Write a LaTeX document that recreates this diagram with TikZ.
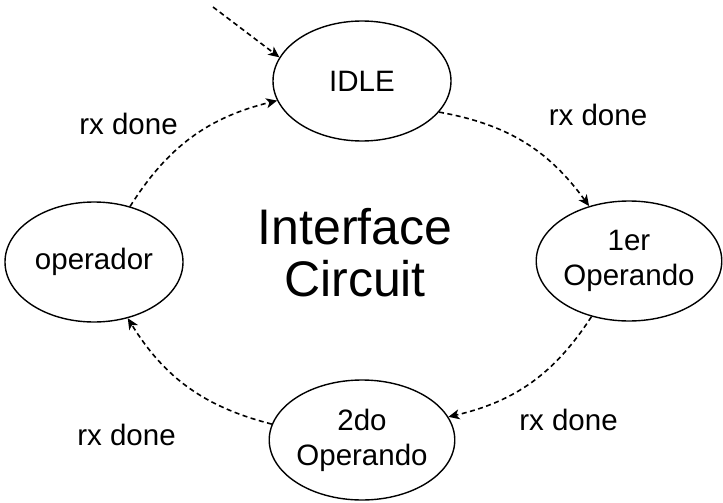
\documentclass[tikz,border=0pt]{standalone}
\usepackage{fontspec}
\setmainfont{Liberation Sans}
\usetikzlibrary{arrows.meta,shapes.geometric}
\begin{document}
\begin{tikzpicture}[x=1pt,y=1pt,
  state/.style={ellipse,draw,line width=1.4pt,minimum width=178pt,minimum height=120pt,inner sep=0pt,align=center,font=\fontsize{29.5}{35}\selectfont},
  lbl/.style={font=\fontsize{29.5}{35}\selectfont,inner sep=0pt,anchor=base},
  trans/.style={draw,line width=1.6pt,dash pattern=on 5pt off 3.5pt,-{Stealth[length=11pt,width=10pt,inset=3pt]}}]
\useasboundingbox (0,0) rectangle (723,-503);
\node[state] (idle) at (362,-81) {IDLE};
\node[state] (op1) at (629,-261) {1er\\Operando};
\node[state] (op2) at (362,-440) {2do\\Operando};
\node[state] (oper) at (94,-262) {operador};
\node[font=\fontsize{50}{52}\selectfont,align=center,inner sep=0pt] (title) at (355,-253) {Interface\\Circuit};
\node[lbl] (l1) at (128.5,-134) {rx done};
\node[lbl] (l2) at (598,-125) {rx done};
\node[lbl] (l3) at (568.5,-430) {rx done};
\node[lbl] (l4) at (126.5,-445) {rx done};
\coordinate (start) at (213,-7);
\draw[trans] (start) -- (idle.164);
\draw[trans] (idle.-22) to[bend left=22] (op1.126);
\draw[trans] (op1.-124) to[bend left=22] (op2.15);
\draw[trans] (op2.170) to[bend left=22] (oper.-59);
\draw[trans] (oper.57) to[bend left=22] (idle.-167);
\end{tikzpicture}
\end{document}
